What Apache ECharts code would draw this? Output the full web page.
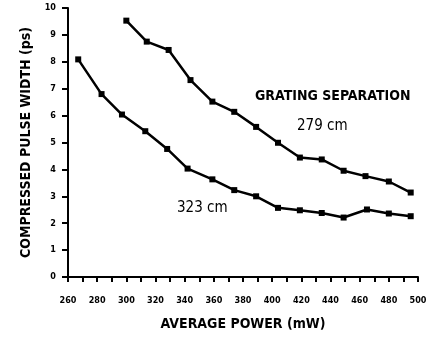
<!DOCTYPE html>
<html>
<head>
<meta charset="utf-8">
<script src="https://cdn.jsdelivr.net/npm/echarts@6/dist/echarts.min.js"></script>
<style>
  html, body { margin: 0; padding: 0; background: #fff; }
  #chart { width: 438px; height: 339px; }
</style>
</head>
<body>
<div id="chart"></div>
<script>
// 279 cm grating separation
const power279 = [300, 314, 329, 344, 359, 374, 389, 404, 419, 434, 449, 464, 480, 495];
const width279 = [9.53, 8.75, 8.44, 7.32, 6.52, 6.14, 5.58, 4.99, 4.44, 4.37, 3.95, 3.75, 3.55, 3.14];
// 323 cm grating separation
const power323 = [267, 283, 297, 313, 328, 342, 359, 374, 389, 404, 419, 434, 449, 465, 480, 495];
const width323 = [8.09, 6.8, 6.04, 5.42, 4.76, 4.03, 3.63, 3.23, 3.0, 2.57, 2.48, 2.38, 2.21, 2.51, 2.36, 2.26];

const font = '"DejaVu Sans Condensed", "Liberation Sans Narrow", sans-serif';

function pairs(xs, ys) {
    return xs.map((x, i) => [x, ys[i]]);
}

let chart = echarts.init(document.getElementById('chart'));

let option = {
    animation: false,
    grid: { left: 68, right: 20, top: 8, bottom: 62 },
    xAxis: {
        type: 'value',
        min: 260,
        max: 500,
        interval: 10,
        name: 'AVERAGE POWER (mW)',
        nameLocation: 'middle',
        nameGap: 40,
        nameTextStyle: { fontFamily: font, fontSize: 14, fontWeight: 'bold', color: '#000' },
        axisLine: { lineStyle: { color: '#000', width: 2 } },
        axisTick: { length: 5, lineStyle: { color: '#000', width: 2 } },
        axisLabel: {
            color: '#000', fontFamily: font, fontSize: 9, fontWeight: 'bold', margin: 19,
            formatter: v => (v % 20 === 0 ? v : '')
        },
        splitLine: { show: false }
    },
    yAxis: {
        type: 'value',
        min: 0,
        max: 10,
        interval: 1,
        name: 'COMPRESSED PULSE WIDTH (ps)',
        nameLocation: 'middle',
        nameGap: 35,
        nameTextStyle: { fontFamily: font, fontSize: 14, fontWeight: 'bold', color: '#000' },
        axisLine: { show: true, lineStyle: { color: '#000', width: 2 } },
        axisTick: { show: true, length: 6, lineStyle: { color: '#000', width: 2 } },
        axisLabel: { color: '#000', fontFamily: font, fontSize: 9, fontWeight: 'bold', margin: 12 },
        splitLine: { show: false }
    },
    series: [
        {
            type: 'line',
            data: pairs(power279, width279),
            symbol: 'rect',
            symbolSize: 6,
            itemStyle: { color: '#000' },
            lineStyle: { color: '#000', width: 2.5 }
        },
        {
            type: 'line',
            data: pairs(power323, width323),
            symbol: 'rect',
            symbolSize: 6,
            itemStyle: { color: '#000' },
            lineStyle: { color: '#000', width: 2.5 }
        }
    ],
    graphic: [
        { type: 'text', left: 255, top: 89, style: { text: 'GRATING SEPARATION', font: 'bold 14px ' + font, fill: '#000' } },
        { type: 'text', left: 297, top: 119, style: { text: '279 cm', font: '15px ' + font, fill: '#000' } },
        { type: 'text', left: 177, top: 201, style: { text: '323 cm', font: '15px ' + font, fill: '#000' } }
    ]
};

chart.setOption(option);
window.onresize = chart.resize;
</script>
</body>
</html>
